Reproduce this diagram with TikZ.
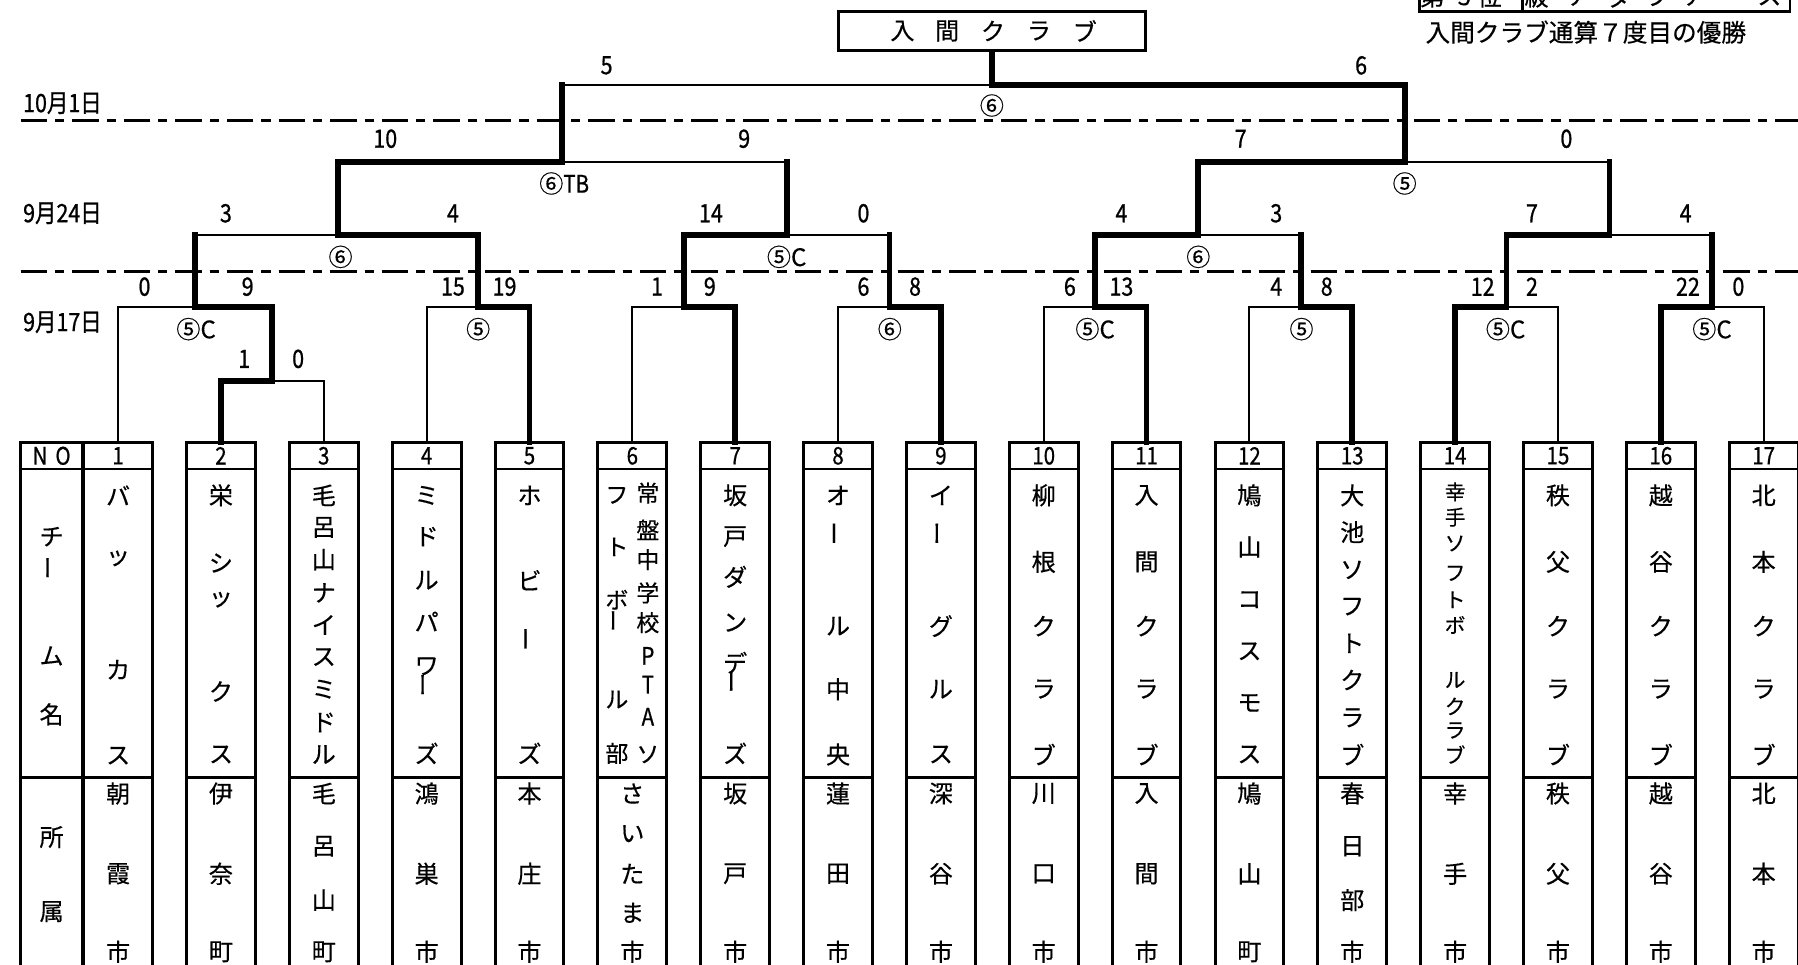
\documentclass[tikz,border=0pt]{standalone}
\usepackage{fontspec}
\setmainfont{Noto Sans CJK JP}[FakeStretch=0.85,FakeBold=0.8]
\newfontfamily\jpw{Noto Sans CJK JP}[FakeBold=0.4]
\newcommand{\fsz}[1]{\fontsize{#1}{#1}\selectfont}
\tikzset{
  bl/.style={line width=1.8pt},
  wl/.style={line width=5pt, line cap=rect},
  frame/.style={line width=2.6pt},
  dline/.style={line width=2.4pt, dash pattern=on 23pt off 7pt on 8pt off 7pt},
  sc/.style={font=\fsz{22}, inner sep=0pt},
  res/.style={font=\jpw\fsz{21}, inner sep=0pt},
  num/.style={font=\fsz{21}, inner sep=0pt},
}
\newcommand{\vt}[4][21]{\foreach \yy/\cc [count=\k] in {#4} {\node[inner sep=0pt, font=\jpw\fsz{#1}] (#2-\k) at (#3,\yy) {\cc};}}
\newcommand{\vbar}[4][21]{\node[inner sep=0pt, rotate=90, font=\jpw\fsz{#1}] (#2) at (#3,#4) {ー};}
\begin{document}
\begin{tikzpicture}[x=1pt,y=-1pt]
\useasboundingbox (0,0) rectangle (1568,841);
\clip (0,0) rectangle (1568,841);

% date lines
\coordinate (d1a) at (18,105); \coordinate (d1b) at (1580,105);
\coordinate (d2a) at (18,237); \coordinate (d2b) at (1580,237);
\draw[dline] (d1a) -- (d1b);
\draw[dline] (d2a) -- (d2b);
\node[sc, anchor=west] (date1) at (20,90) {10月1日};
\node[sc, anchor=west] (date2) at (20,186) {9月24日};
\node[sc, anchor=west] (date3) at (20,281) {9月17日};

% top right
\draw[frame] (1238,-30) rectangle (1561,10);
\draw[frame] (1328,-30) -- (1328,10);
\foreach \xx/\cc [count=\k] in {1249/第,1277/3,1299/位,1340/級,1377/ア,1412/ダ,1444/ラ,1478/ア,1508/ー,1543/ス}
  {\node[inner sep=0pt, font=\jpw\fsz{21}] (tr\k) at (\xx,-3) {\cc};}
\node[inner sep=0pt, anchor=west, font=\jpw\fsz{21.5}] (note) at (1243,28) {入間クラブ通算７度目の優勝};

% champion box
\node[draw, frame, minimum width=268pt, minimum height=34pt, inner sep=0pt] (champ) at (865,27) {};
\foreach \xx/\cc [count=\k] in {787/入,826/間,866/ク,906/ラ,946/ブ}
  {\node[inner sep=0pt, font=\jpw\fsz{21}] (ch\k) at (\xx,27) {\cc};}

% team coordinates
\foreach \i in {1,...,17} {
  \pgfmathsetmacro\cx{103+(\i-1)*89.69}
  \coordinate (t\i) at (\cx,386);
}
\coordinate (m23) at (237.5,332);
\coordinate (mA) at (170.3,268);
\coordinate (m45) at (416.9,268);
\coordinate (m67) at (596.3,268);
\coordinate (m89) at (775.7,268);
\coordinate (m1011) at (955.1,268);
\coordinate (m1213) at (1134.4,268);
\coordinate (m1415) at (1313.8,268);
\coordinate (m1617) at (1493.2,268);
\coordinate (q1) at (295,205);
\coordinate (q2) at (686,205);
\coordinate (q3) at (1045,205);
\coordinate (q4) at (1403.5,205);
\coordinate (s1) at (490,141);
\coordinate (s2) at (1225,141);
\coordinate (f) at (865,74);

% thin bracket
\foreach \L/\R/\P in {t2/t3/m23, t1/m23/mA, t4/t5/m45, t6/t7/m67, t8/t9/m89, t10/t11/m1011,
  t12/t13/m1213, t14/t15/m1415, t16/t17/m1617, mA/m45/q1, m67/m89/q2, m1011/m1213/q3,
  m1415/m1617/q4, q1/q2/s1, q3/q4/s2, s1/s2/f}
  {\draw[bl] (\L) |- (\P) -| (\R);}
% winners
\foreach \W/\P in {t2/m23, m23/mA, t5/m45, t7/m67, t9/m89, t11/m1011, t13/m1213, t14/m1415,
  t16/m1617, m45/q1, m67/q2, m1011/q3, m1415/q4, q1/s1, q3/s2, s2/f}
  {\draw[wl] (\W) |- (\P);}
\foreach \M/\P in {mA/q1, m89/q2, m1213/q3, m1617/q4, q2/s1, q4/s2, s1/f}
  {\draw[wl] (\M) -- (\M |- \P);}
\draw[wl] (f) -- (champ.south);

% scores
\foreach \xx/\yy/\tt [count=\n] in {529/57/5, 1187/57/6,
  336/121/10, 649/121/9, 1082/121/7, 1366/121/0,
  197/186/3, 395/186/4, 620/186/14, 753/186/0, 978/186/4, 1113/186/3, 1336/186/7, 1470/186/4,
  126/250/0, 216/250/9, 395/250/15, 440/250/19, 573/250/1, 619/250/9, 753/250/6, 798/250/8,
  933/250/6, 978/250/13, 1113/250/4, 1157/250/8, 1293/250/12, 1336/250/2, 1472/250/22, 1516/250/0,
  213/313/1, 260/313/0}
  {\node[sc] (sc\n) at (\xx,\yy) {\tt};}

% results
\foreach \xx/\yy/\tt [count=\n] in {865/92/⑥, 492/160/{⑥{\rmfamily TB}}, 1225/160/⑤,
  297/224/⑥, 686/224/⑤C, 1045/224/⑥,
  171/287/⑤C, 417/287/⑤, 776/287/⑥, 955/287/⑤C, 1135/287/⑤, 1313/287/⑤C, 1493/287/⑤C}
  {\node[res] (rs\n) at (\xx,\yy) {\tt};}

% NO column
\draw[frame] (18,386) rectangle (72,870);
\draw[frame] (18,409) -- (72,409);
\draw[frame] (18,678) -- (72,678);
\node[num] (nohdr) at (45,397.5) {N\hspace{7pt}O};
\vt{nc}{45}{468/チ,572/ム,623/名}
\vbar{ncbar}{45}{495}
\vt{na}{45}{730/所,795/属}

% team boxes
\foreach \i in {1,...,17} {
  \pgfmathsetmacro\cx{103+(\i-1)*89.69}
  \draw[frame] (\cx-30,386) rectangle (\cx+30,870);
  \draw[frame] (\cx-30,409) -- (\cx+30,409);
  \draw[frame] (\cx-30,678) -- (\cx+30,678);
  \node[num] (h\i) at (\cx,397.5) {\i};
}

% team names
\vt{n1}{103}{432/バ,487/ッ,584/カ,659/ス}
\vt{n2}{192.69}{432/栄,491/シ,523/ッ,603/ク,658/ス}
\vt{n3}{282.38}{432/毛,460/呂,488/山,517/ナ,545/イ,573/ス,601/ミ,630/ド,658/ル}
\vt{n4}{372.07}{432/ミ,468/ド,506/ル,542/パ,581/ワ,657/ズ}
\vbar{n4bar}{372.07}{597}
\vt{n5}{461.76}{432/ホ,506/ビ,657/ズ}
\vbar{n5bar}{461.76}{557}
\vt[20]{n6r}{565}{430/常,462/盤,488/中,517/学,543/校,658/ソ}
\foreach \yy/\cc [count=\k] in {572/P,597/T,625/A}
  {\node[inner sep=0pt, font=\fsz{21}] (n6p\k) at (565,\yy) {\cc};}
\vt[20]{n6l}{538}{432/フ,477/ト,523/ボ,610/ル,657/部}
\vbar[20]{n6bar}{538}{541}
\vt{n7}{641.14}{432/坂,468/戸,503/ダ,543/ン,578/デ,657/ズ}
\vbar{n7bar}{641.14}{594}
\vt{n8}{730.83}{432/オ,546/ル,601/中,658/央}
\vbar{n8bar}{730.83}{465}
\vt{n9}{820.52}{432/イ,546/グ,601/ル,658/ス}
\vbar{n9bar}{820.52}{465}
\vt{n10}{910.21}{432/柳,490/根,546/ク,601/ラ,658/ブ}
\vt{n11}{999.9}{432/入,490/間,546/ク,601/ラ,658/ブ}
\vt{n12}{1089.59}{432/鳩,477/山,523/コ,568/ス,613/モ,658/ス}
\vt{n13}{1179.28}{432/大,464/池,497/ソ,529/フ,561/ト,593/ク,626/ラ,658/ブ}
\vt[18]{n14}{1268.97}{429/幸,451/手,474/ソ,500/フ,523/ト,545/ボ,593/ル,616/ク,637/ラ,658/ブ}
\vt{n15}{1358.66}{432/秩,490/父,546/ク,601/ラ,658/ブ}
\vt{n16}{1448.35}{432/越,490/谷,546/ク,601/ラ,658/ブ}
\vt{n17}{1538.04}{432/北,490/本,546/ク,601/ラ,658/ブ}

% affiliations
\vt{a1}{103}{692/朝,762/霞,830/市}
\vt{a2}{192.69}{692/伊,762/奈,830/町}
\vt{a3}{282.38}{692/毛,738/呂,785/山,830/町}
\vt{a4}{372.07}{692/鴻,762/巣,830/市}
\vt{a5}{461.76}{692/本,762/庄,830/市}
\vt{a6}{551.45}{692/さ,727/い,762/た,796/ま,830/市}
\vt{a7}{641.14}{692/坂,762/戸,830/市}
\vt{a8}{730.83}{692/蓮,762/田,830/市}
\vt{a9}{820.52}{692/深,762/谷,830/市}
\vt{a10}{910.21}{692/川,762/口,830/市}
\vt{a11}{999.9}{692/入,762/間,830/市}
\vt{a12}{1089.59}{692/鳩,762/山,830/町}
\vt{a13}{1179.28}{692/春,738/日,785/部,830/市}
\vt{a14}{1268.97}{692/幸,762/手,830/市}
\vt{a15}{1358.66}{692/秩,762/父,830/市}
\vt{a16}{1448.35}{692/越,762/谷,830/市}
\vt{a17}{1538.04}{692/北,762/本,830/市}
\end{tikzpicture}
\end{document}
